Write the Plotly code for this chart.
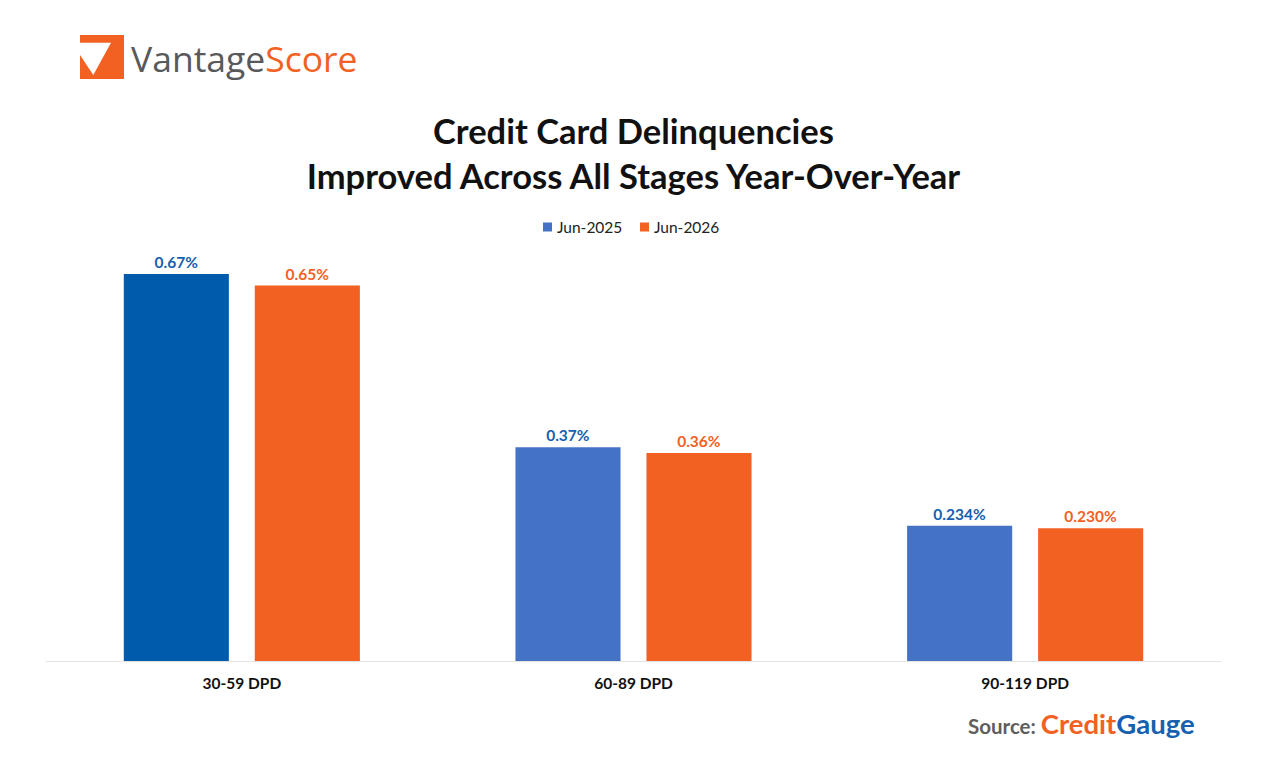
import plotly.graph_objects as go

categories = ["30-59 DPD", "60-89 DPD", "90-119 DPD"]
series_names = ["Jun-2025", "Jun-2026"]
jun2025 = [0.67, 0.37, 0.234]
jun2026 = [0.65, 0.36, 0.230]
labels2025 = ["0.67%", "0.37%", "0.234%"]
labels2026 = ["0.65%", "0.36%", "0.230%"]

BLUE_DARK = "#005BAC"
BLUE = "#4472C4"
ORANGE = "#F26122"
LABEL_BLUE = "#1560B0"
FONT = "Lato, 'Open Sans', sans-serif"

W, H = 1270, 768
L, R, T, B = 46, 49, 240, 107
PW, PH = W - L - R, H - T - B


def px(x):
    return (x - L) / PW


def py(y):
    return (H - B - y) / PH


fig = go.Figure()
fig.add_trace(go.Bar(
    x=categories, y=jun2025, name=series_names[0],
    marker=dict(color=[BLUE_DARK, BLUE, BLUE], line=dict(width=0)),
    text=labels2025, textposition="outside", cliponaxis=False,
    textfont=dict(color=LABEL_BLUE, size=15.5, family=FONT, weight="bold"),
    showlegend=False,
))
fig.add_trace(go.Bar(
    x=categories, y=jun2026, name=series_names[1],
    marker=dict(color=ORANGE, line=dict(width=0)),
    text=labels2026, textposition="outside", cliponaxis=False,
    textfont=dict(color=ORANGE, size=15.5, family=FONT, weight="bold"),
    showlegend=False,
))

fig.update_layout(
    width=W, height=H,
    margin=dict(l=L, r=R, t=T, b=B, autoexpand=False),
    paper_bgcolor="white", plot_bgcolor="white",
    font=dict(family=FONT, color="#222222"),
    barmode="group", bargap=0.331, bargroupgap=0.198,
    title=dict(
        text="Credit Card Delinquencies<br>Improved Across All Stages Year-Over-Year",
        x=0.5, xanchor="center", xref="paper", y=1 - 144 / H, yanchor="middle",
        font=dict(size=34.5, family=FONT, color="#111111", weight="bold"),
    ),
    xaxis=dict(showgrid=False, showline=True, linecolor="#E3E3E3", linewidth=1,
               layer="below traces",
               ticks="", tickfont=dict(size=15.5, family=FONT, color="#111111", weight="bold"),
               ticklabelstandoff=8),
    yaxis=dict(range=[0, 0.729], visible=False, showgrid=False, zeroline=False),
    showlegend=False,
)

# Legend (manual, compact)
legend_items = [(series_names[0], BLUE, 543), (series_names[1], ORANGE, 640)]
for nm, col, x0 in legend_items:
    fig.add_shape(type="rect", xref="paper", yref="paper",
                  x0=px(x0), x1=px(x0 + 9), y0=py(231.5), y1=py(222.5),
                  fillcolor=col, line=dict(width=0), layer="above")
    fig.add_annotation(xref="paper", yref="paper", x=px(x0 + 12), y=py(227), xanchor="left",
                       yanchor="middle", text=nm, showarrow=False,
                       font=dict(size=15.5, family=FONT, color="#222222"))

# Logo
fig.add_shape(type="rect", xref="paper", yref="paper",
              x0=px(80), x1=px(124), y0=py(79), y1=py(35),
              fillcolor=ORANGE, line=dict(width=0), layer="above")
pts = [(80, 42.7), (111, 42.7), (93.3, 75), (80, 55)]
path = "M " + " L ".join(f"{px(a):.5f},{py(b):.5f}" for a, b in pts) + " Z"
fig.add_shape(type="path", xref="paper", yref="paper", path=path,
              fillcolor="white", line=dict(width=0), layer="above")
fig.add_annotation(xref="paper", yref="paper", x=px(129), y=py(58), xanchor="left", yanchor="middle",
                   text="<span style='color:#58595B'>Vantage</span><span style='color:#F26122'>Score</span>",
                   showarrow=False, font=dict(size=35.5, family="'Open Sans', sans-serif"))

# Source
fig.add_annotation(xref="paper", yref="paper", x=px(1197), y=py(723), xanchor="right", yanchor="middle",
                   text="<b><span style='color:#5E5E5E;font-size:20.5px'>Source: </span>"
                        "<span style='color:#F26122'>Credit</span><span style='color:#1560B0'>Gauge</span></b>",
                   showarrow=False, font=dict(size=27.5, family=FONT))

fig.write_html("out.html")
